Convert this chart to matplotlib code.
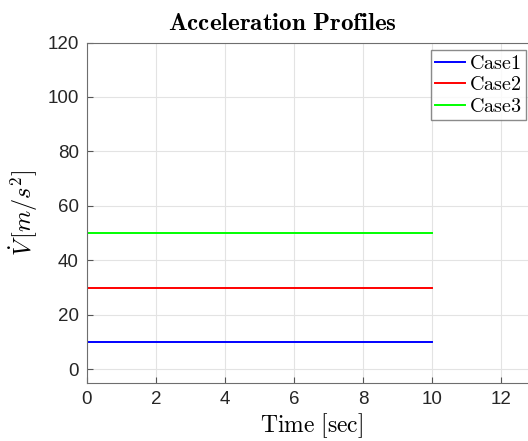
import numpy as np
import matplotlib
matplotlib.use("Agg")
import matplotlib.pyplot as plt

plt.rcParams['mathtext.fontset'] = 'cm'
plt.rcParams['font.family'] = ['Liberation Sans', 'DejaVu Sans']

# Data
time = [0, 10]
cases = ["Case1", "Case2", "Case3"]
accel = [10, 30, 50]
colors = ["#0000ff", "#ff0000", "#00ff00"]

W, H = 528, 441
fig = plt.figure(figsize=(W / 100, H / 100), dpi=100)
# axes box in pixels: left 87, bottom 383, top 42.5, x-scale 34.5 px/unit
x0, x1 = 0, 13
left, top, bottom = 87, 42.5, 383
right = left + 34.5 * (x1 - x0)
ax = fig.add_axes([left / W, 1 - bottom / H, (right - left) / W, (bottom - top) / H])

for name, v, c in zip(cases, accel, colors):
    ax.plot(time, [v, v], color=c, lw=1.4, label=r"$\mathrm{%s}$" % name)

ax.set_xlim(x0, x1)
ax.set_ylim(-5, 120)
ax.set_xticks(np.arange(0, 14, 2))
ax.set_yticks(np.arange(0, 121, 20))
ax.grid(True, color="#e3e3e3", lw=0.8)
ax.set_axisbelow(True)
ax.tick_params(direction="in", length=4, labelsize=13.5, colors="#262626", pad=6)
ax.tick_params(axis="both", which="both", color="#555555")
for s in ["top", "left", "bottom"]:
    ax.spines[s].set_color("#6e6e6e")
ax.spines["right"].set_visible(False)

ax.set_title(r"$\mathbf{Acceleration\ Profiles}$", fontsize=18, pad=9,
             x=(282 - left) / (right - left))
ax.set_xlabel(r"$\mathrm{Time\ [sec]}$", fontsize=17, labelpad=2)
ax.set_ylabel(r"$\dot{V}\,[m/s^2]$", fontsize=17.5, labelpad=5)

leg = ax.legend(loc="upper left", bbox_to_anchor=(431 / W, 1 - 50 / H),
                bbox_transform=fig.transFigure, fontsize=14.5, frameon=True,
                fancybox=False, borderpad=0.2, handlelength=1.5,
                labelspacing=0.12, handletextpad=0.2, borderaxespad=0)
leg.get_frame().set_edgecolor("#6e6e6e")
leg.get_frame().set_linewidth(1.0)

fig.savefig("out.png", dpi=100)
